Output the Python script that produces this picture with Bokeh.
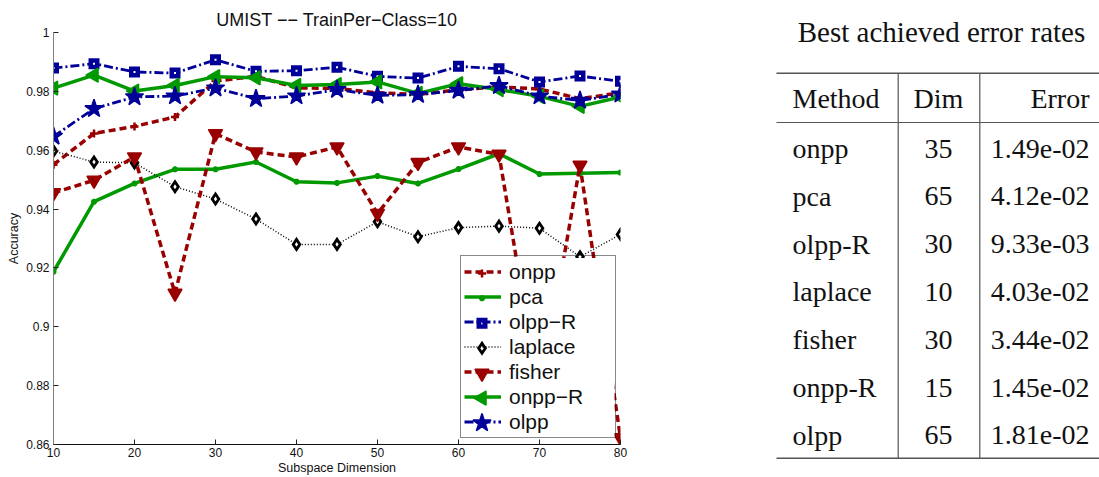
import math
from bokeh.plotting import figure
from bokeh.layouts import row, column
from bokeh.models import (Range1d, FixedTicker, Legend, LegendItem, ColumnDataSource)
from bokeh.core.properties import value
from bokeh.embed import file_html
from bokeh.resources import INLINE

# ---------------- data ----------------
dims = [10, 15, 20, 25, 30, 35, 40, 45, 50, 55, 60, 65, 70, 75, 80]
onpp = [0.9551, 0.9657, 0.9681, 0.9713, 0.9835, 0.9851, 0.9812, 0.9810, 0.9795, 0.9790, 0.9805, 0.9815, 0.9808, 0.9775, 0.9795]
pca = [0.9187, 0.9425, 0.9487, 0.9535, 0.9535, 0.9560, 0.9493, 0.9489, 0.9512, 0.9487, 0.9536, 0.9588, 0.9519, 0.9522, 0.9524]
olpp_R = [0.9879, 0.9894, 0.9866, 0.9862, 0.9907, 0.9868, 0.9870, 0.9882, 0.9851, 0.9845, 0.9885, 0.9877, 0.9832, 0.9852, 0.9834]
laplace = [0.9597, 0.9560, 0.9557, 0.9476, 0.9434, 0.9366, 0.9280, 0.9280, 0.9357, 0.9306, 0.9337, 0.9342, 0.9335, 0.9238, 0.9314]
fisher = [0.9455, 0.9498, 0.9577, 0.9114, 0.9656, 0.9594, 0.9577, 0.9611, 0.9385, 0.9558, 0.9611, 0.9586, 0.8760, 0.9549, 0.8623]
onpp_R = [0.9811, 0.9855, 0.9801, 0.9820, 0.9850, 0.9846, 0.9820, 0.9823, 0.9832, 0.9793, 0.9826, 0.9806, 0.9783, 0.9749, 0.9781]
olpp = [0.9647, 0.9741, 0.9781, 0.9784, 0.9811, 0.9775, 0.9784, 0.9806, 0.9786, 0.9789, 0.9803, 0.9819, 0.9784, 0.9769, 0.9790]

series_keys = ["onpp", "pca", "olpp_R", "laplace", "fisher", "onpp_R", "olpp"]
series_names = ["onpp", "pca", "olpp\u2212R", "laplace", "fisher", "onpp\u2212R", "olpp"]

xticks = [10, 20, 30, 40, 50, 60, 70, 80]
yticks = [0.86, 0.88, 0.9, 0.92, 0.94, 0.96, 0.98, 1.0]
ytick_labels = ["0.86", "0.88", "0.9", "0.92", "0.94", "0.96", "0.98", "1"]

title_text = "UMIST \u2212\u2212 TrainPer\u2212Class=10"
xlabel = "Subspace Dimension"
ylabel = "Accuracy"

table_title = "Best achieved error rates"
table_header = ["Method", "Dim", "Error"]
table_methods = ["onpp", "pca", "olpp-R", "laplace", "fisher", "onpp-R", "olpp"]
table_dims = ["35", "65", "30", "10", "30", "15", "65"]
table_errors = ["1.49e-02", "4.12e-02", "9.33e-03", "4.03e-02", "3.44e-02", "1.45e-02", "1.81e-02"]

# ---------------- styles ----------------
RED = "#990000"
GREEN = "#009900"
BLUE = "#000099"
BLACK = "#000000"
SANS = "Liberation Sans"
SERIF = "Liberation Serif"

line_styles = {
    "onpp": dict(line_color=RED, line_width=3.5, line_dash="7 4"),
    "pca": dict(line_color=GREEN, line_width=3.5),
    "olpp_R": dict(line_color=BLUE, line_width=2.8, line_dash="9 3 2 3"),
    "laplace": dict(line_color=BLACK, line_width=1.5, line_dash="1 2"),
    "fisher": dict(line_color=RED, line_width=3.5, line_dash="7 4"),
    "onpp_R": dict(line_color=GREEN, line_width=3.5),
    "olpp": dict(line_color=BLUE, line_width=2.8, line_dash="9 3 2 3"),
}
marker_styles = {
    "onpp": dict(marker="cross", size=8, line_color=RED, line_width=2.5),
    "pca": dict(marker="asterisk", size=6, line_color=GREEN, line_width=2),
    "olpp_R": dict(marker="square", size=6.5, line_color=BLUE, line_width=4.5,
                   line_join="miter", fill_color="white"),
    "laplace": dict(marker="diamond", size=10, line_color=BLACK, line_width=2.8,
                    line_join="miter", fill_color="white"),
    "fisher": dict(marker="inverted_triangle", size=14, line_color=RED, line_width=1.5,
                   fill_color=RED),
    "onpp_R": dict(marker="triangle", size=14, angle=math.pi / 2, line_color=GREEN,
                   line_width=1.5, fill_color=GREEN),
    "olpp": dict(marker="star", size=19, line_color=BLUE, line_width=1.5, fill_color=BLUE),
}

# ---------------- main plot ----------------
W1, H1 = 760, 477
BL, BR, BT, BB = 53, 140, 32, 32
p = figure(width=W1, height=H1, output_backend="svg", toolbar_location=None,
           x_range=Range1d(10, 80), y_range=Range1d(0.86, 1.0),
           min_border_left=BL, min_border_right=BR, min_border_top=BT, min_border_bottom=BB)
p.title.text = title_text
p.title.align = "center"
p.title.text_font = SANS
p.title.text_font_size = "18px"
p.title.text_font_style = "normal"
p.title.text_color = "#111111"
p.title.standoff = 5
p.grid.visible = False
p.outline_line_color = None
p.background_fill_color = "white"

p.xaxis.ticker = FixedTicker(ticks=xticks)
p.yaxis.ticker = FixedTicker(ticks=yticks)
p.yaxis.major_label_overrides = {t: l for t, l in zip(yticks, ytick_labels)}
for ax in (p.xaxis[0], p.yaxis[0]):
    ax.major_tick_in = 5
    ax.major_tick_out = 0
    ax.minor_tick_in = 0
    ax.minor_tick_out = 0
    ax.major_label_text_font = SANS
    ax.major_label_text_font_size = "12px"
    ax.major_label_text_color = "#111111"
    ax.axis_label_text_font = SANS
    ax.axis_label_text_font_size = "12.5px"
    ax.axis_label_text_font_style = "normal"
    ax.axis_label_text_color = "#111111"
    ax.major_tick_line_color = "#222222"
p.xaxis.axis_label = xlabel
p.yaxis.axis_label = ylabel
p.xaxis.axis_line_color = "#111111"
p.yaxis.axis_line_color = "#808080"
p.xaxis.major_label_standoff = 3
p.xaxis.axis_label_standoff = 1
p.yaxis.major_label_standoff = 4
p.yaxis.axis_label_standoff = 2

src = ColumnDataSource(dict(x=dims, onpp=onpp, pca=pca, olpp_R=olpp_R, laplace=laplace,
                            fisher=fisher, onpp_R=onpp_R, olpp=olpp))

items = []
for key, name in zip(series_keys, series_names):
    l = p.line("x", key, source=src, **line_styles[key])
    p.scatter("x", key, source=src, **marker_styles[key])
    items.append(LegendItem(label=name, renderers=[l]))

# legend layout (screen pixels relative to the frame)
LEG_X, LEG_Y, LEG_PAD, LEG_ROW, LEG_GLYPH_W, LEG_STANDOFF, LEG_LABEL_W = 407, 6, 3, 25, 37, 8, 103
legend = Legend(items=items, location=(LEG_X, LEG_Y), padding=LEG_PAD, spacing=0, margin=0,
                glyph_width=LEG_GLYPH_W, glyph_height=LEG_ROW, label_height=LEG_ROW,
                label_standoff=LEG_STANDOFF, label_width=LEG_LABEL_W, label_text_font=SANS,
                label_text_font_size="21px", label_text_color="#111111",
                label_text_baseline="middle",
                border_line_color="#111111", border_line_width=1,
                background_fill_alpha=0.0)
p.add_layout(legend, "center")

# px -> data helpers (frame geometry follows from figure size and borders)
frame_w = W1 - BL - BR
frame_h = H1 - BT - BB
def px_x(px):
    return p.x_range.start + px * (p.x_range.end - p.x_range.start) / frame_w
def px_y(py):
    return p.y_range.start + py * (p.y_range.end - p.y_range.start) / frame_h

n_items = len(series_keys)
leg_h = n_items * LEG_ROW + 2 * LEG_PAD
leg_w = 2 * LEG_PAD + LEG_GLYPH_W + LEG_STANDOFF + LEG_LABEL_W
# white legend background, drawn above the data lines
p.quad(left=[px_x(LEG_X)], right=[px_x(LEG_X + leg_w)], bottom=[px_y(LEG_Y)],
       top=[px_y(LEG_Y + leg_h)], fill_color="white", line_color=None)
# legend sample markers (the legend itself draws the line samples and labels)
gx_px = LEG_X + LEG_PAD + LEG_GLYPH_W / 2.0
for i, key in enumerate(series_keys):
    gy_px = LEG_Y + leg_h - LEG_PAD - LEG_ROW * (i + 0.5)
    p.scatter([px_x(gx_px)], [px_y(gy_px)], **marker_styles[key])

# ---------------- table ----------------
TW, TH = 339, 477
t = figure(width=TW, height=TH, output_backend="svg", toolbar_location=None,
           x_range=Range1d(0, TW), y_range=Range1d(TH, 0),
           min_border=0, x_axis_location=None, y_axis_location=None)
t.grid.visible = False
t.outline_line_color = None

for fig in (p, t):
    if "frame_align" in fig.properties():
        fig.frame_align = False

FS = "28px"
rule_left, rule_right = 16, TW
top_rule, mid_rule, bottom_rule = 72.7, 122.0, 457.7
col_v1, col_v2 = 137.7, 219.3
header_y = 98.3
row0, row_step = 148.0, 47.8
col_method_x, col_dim_x, col_err_x = 32, 178, 329

t.text(x=[181], y=[31.7], text=[table_title], text_font=value(SERIF), text_font_size="29px",
       text_align="center", text_baseline="middle", text_color="#111111")
t.segment(x0=[rule_left] * 3, x1=[rule_right] * 3, y0=[top_rule, mid_rule, bottom_rule],
          y1=[top_rule, mid_rule, bottom_rule], line_color="#555555",
          line_width=[1.6, 1.2, 1.6])
t.segment(x0=[col_v1, col_v2], x1=[col_v1, col_v2], y0=[top_rule] * 2, y1=[bottom_rule] * 2,
          line_color="#555555", line_width=1.2)

t.text(x=[col_method_x], y=[header_y], text=[table_header[0]], text_font=value(SERIF),
       text_font_size=FS, text_align="left", text_baseline="middle", text_color="#111111")
t.text(x=[col_dim_x], y=[header_y], text=[table_header[1]], text_font=value(SERIF),
       text_font_size=FS, text_align="center", text_baseline="middle", text_color="#111111")
t.text(x=[col_err_x], y=[header_y], text=[table_header[2]], text_font=value(SERIF),
       text_font_size=FS, text_align="right", text_baseline="middle", text_color="#111111")

rows_y = [row0 + i * row_step for i in range(len(table_methods))]
t.text(x=[col_method_x] * len(rows_y), y=rows_y, text=table_methods, text_font=value(SERIF),
       text_font_size=FS, text_align="left", text_baseline="middle", text_color="#111111")
t.text(x=[col_dim_x] * len(rows_y), y=rows_y, text=table_dims, text_font=value(SERIF),
       text_font_size=FS, text_align="center", text_baseline="middle", text_color="#111111")
t.text(x=[col_err_x] * len(rows_y), y=rows_y, text=table_errors, text_font=value(SERIF),
       text_font_size=FS, text_align="right", text_baseline="middle", text_color="#111111")

layout = row(p, column(t))
open("out.html", "w").write(file_html(layout, INLINE))
